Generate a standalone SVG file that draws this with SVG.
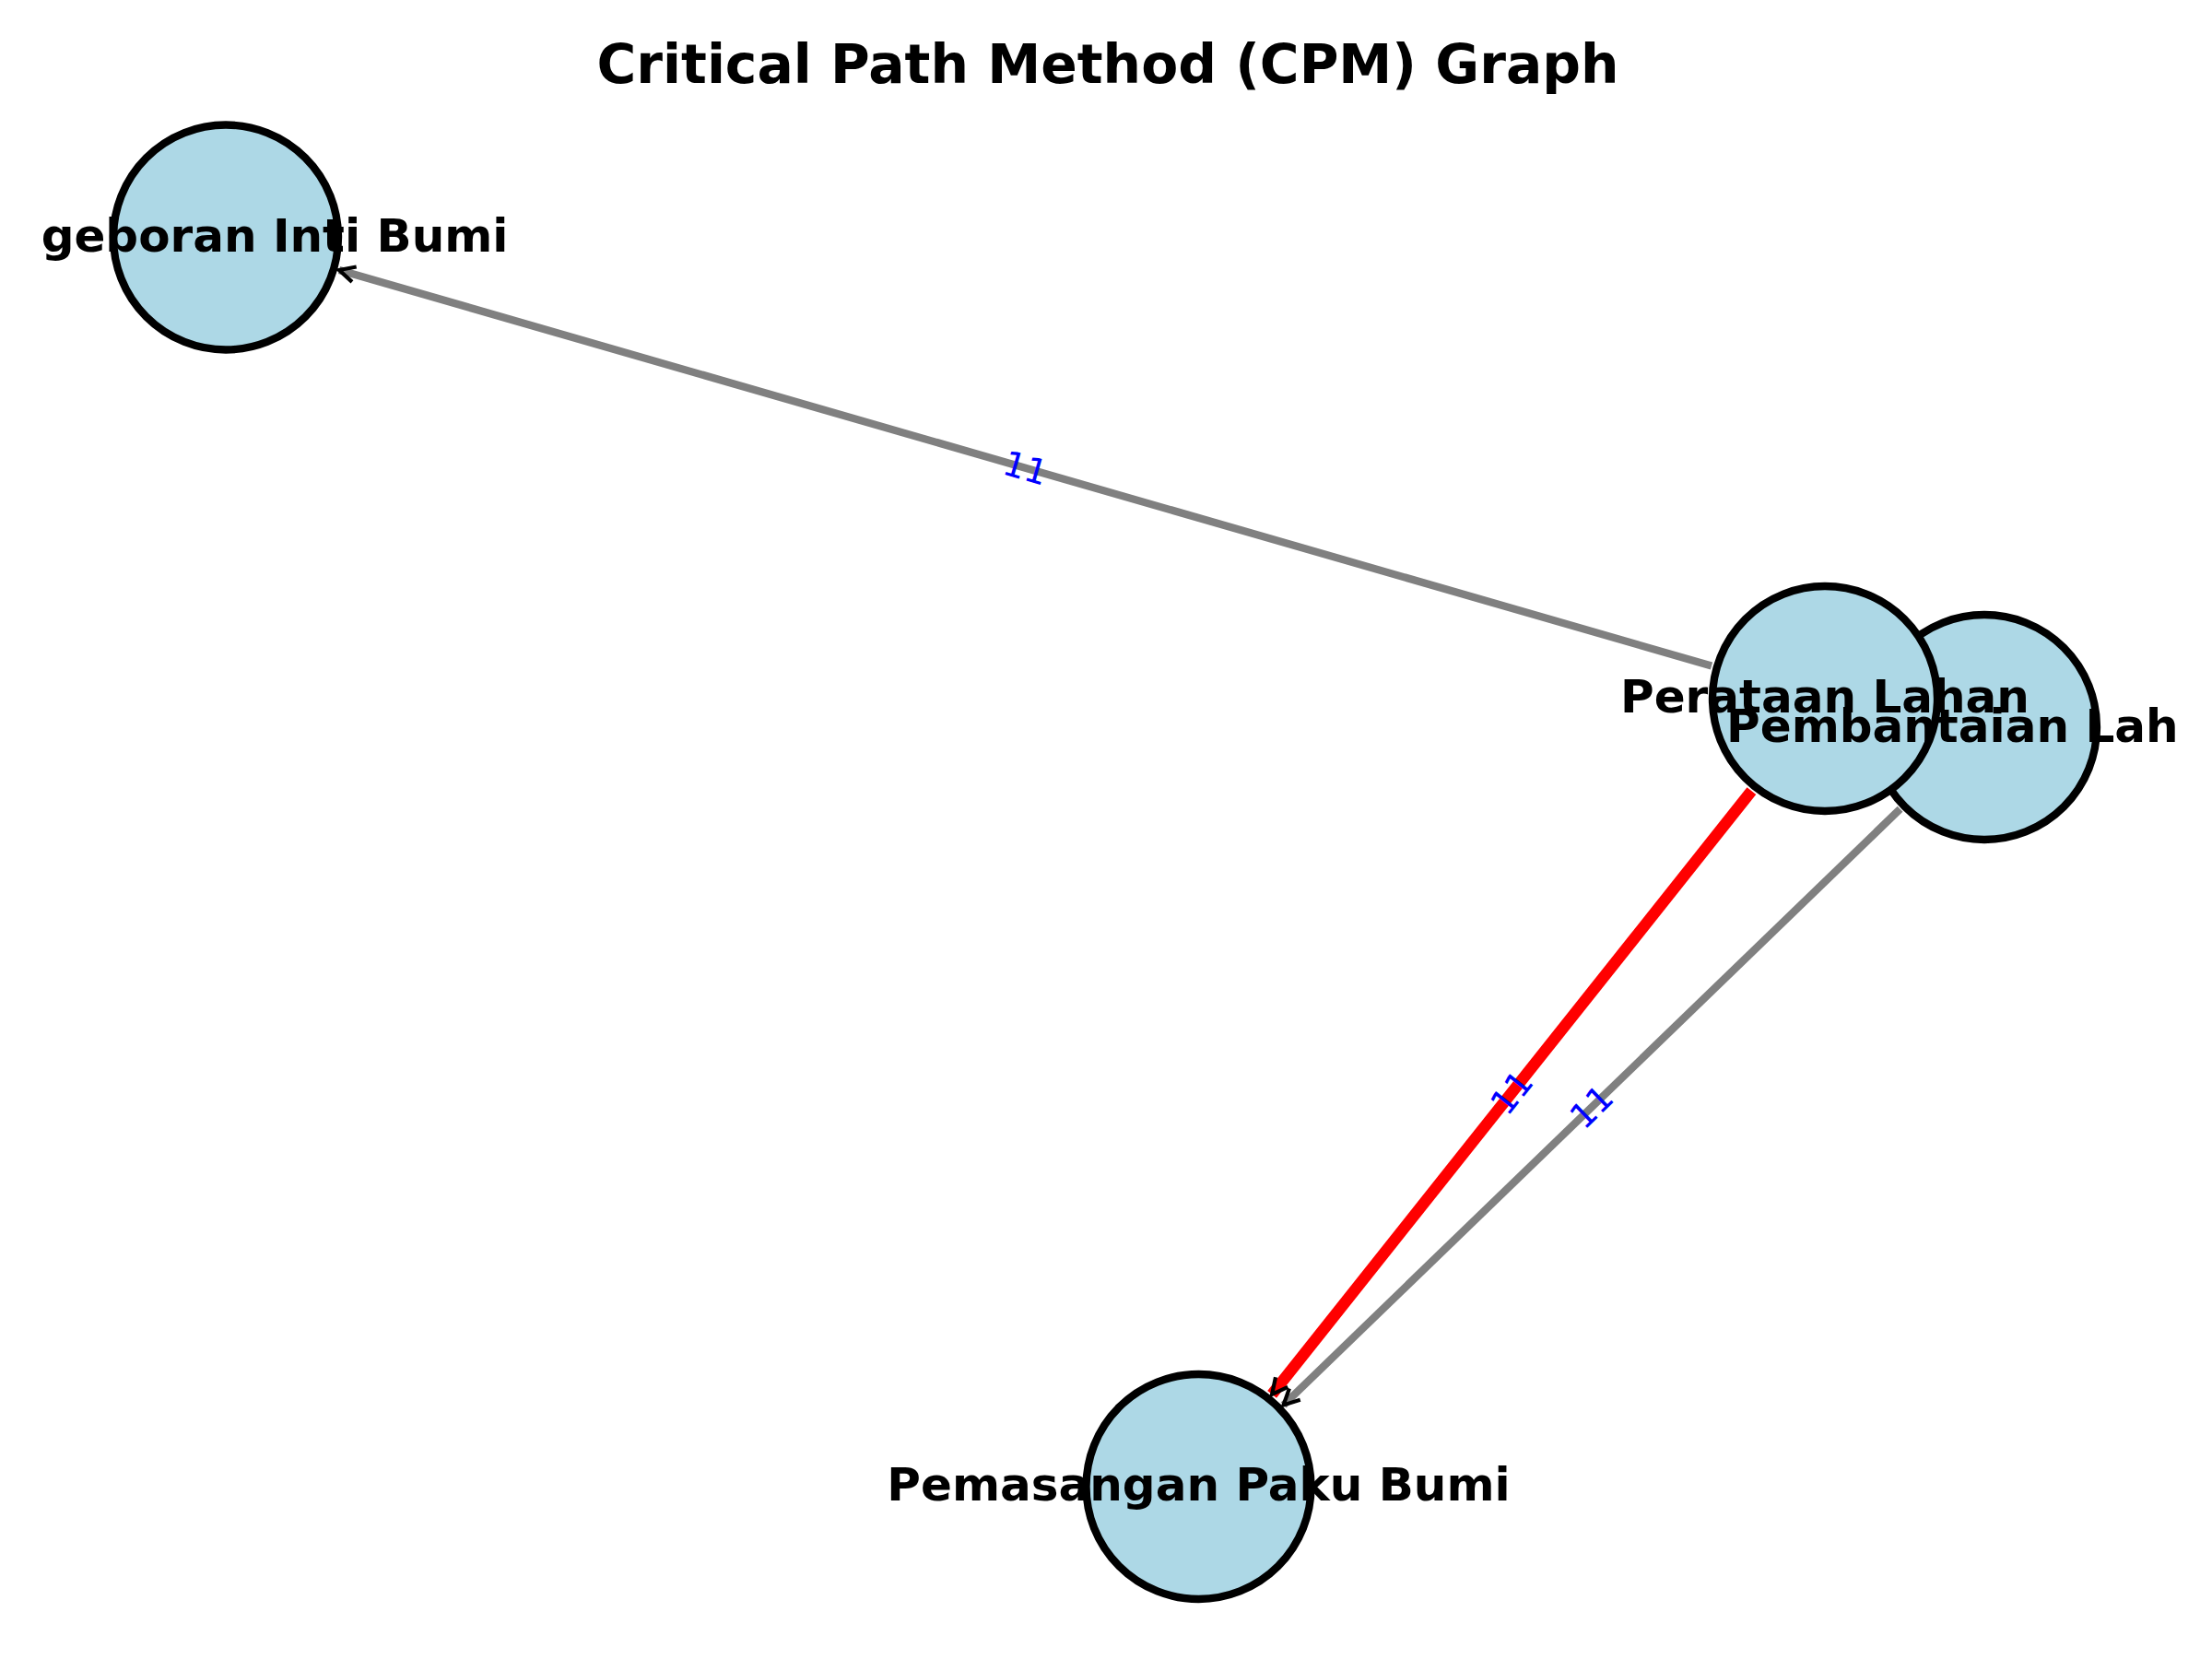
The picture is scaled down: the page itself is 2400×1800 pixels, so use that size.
<svg xmlns="http://www.w3.org/2000/svg" width="2400" height="1800" viewBox="0 0 2400 1800">
  <style>
    .title { font-family: "DejaVu Sans", "Liberation Sans", sans-serif; font-weight: bold; font-size: 58.3px; fill: #000; text-anchor: middle; }
    .node circle { fill: #ADD8E6; stroke: #000; stroke-width: 8.33; }
    .nlabel { font-family: "DejaVu Sans", "Liberation Sans", sans-serif; font-weight: bold; font-size: 50px; fill: #000; text-anchor: middle; }
    .edge { fill: none; stroke-linecap: butt; }
    .normal { stroke: #808080; stroke-width: 8.33; }
    .critical { stroke: #FF0000; stroke-width: 12.5; }
    .elabel { font-family: "DejaVu Sans", "Liberation Sans", sans-serif; font-size: 37.5px; fill: #0000FF; text-anchor: middle; dominant-baseline: central; }
  </style>
  <defs>
    <marker id="arrow" markerUnits="userSpaceOnUse" orient="auto" refX="0" refY="0" markerWidth="40" markerHeight="40" viewBox="-30 -20 40 40" overflow="visible">
      <path d="M-17,-8.5 L0,0 L-17,8.5" fill="none" stroke="#000" stroke-width="4.2" stroke-linejoin="miter"/>
    </marker>
    <clipPath id="plotclip">
      <rect x="44" y="0" width="2318" height="1800"/>
    </clipPath>
  </defs>
  <rect x="0" y="0" width="2400" height="1800" fill="#FFFFFF"/>

  <text class="title" x="1202" y="90">Critical Path Method (CPM) Graph</text>

  <g id="edges">
    <line id="edge-perataan-pengeboran" class="edge normal" x1="1857.0" y1="722.5" x2="368.0" y2="293.0" marker-end="url(#arrow)"/>
    <line id="edge-perataan-pemasangan" class="edge critical" x1="1900.4" y1="858.2" x2="1380.1" y2="1512.8" marker-end="url(#arrow)"/>
    <line id="edge-pembantaian-pemasangan" class="edge normal" x1="2061.6" y1="877.8" x2="1392.6" y2="1524.4" marker-end="url(#arrow)"/>
  </g>

  <g id="edge-labels">
    <text class="elabel" transform="translate(1112.5,507.8) rotate(16.09)">11</text>
    <text class="elabel" transform="translate(1640.2,1185.5) rotate(-51.53)">11</text>
    <text class="elabel" transform="translate(1726.8,1201) rotate(-44.0)">11</text>
  </g>

  <g id="node-pengeboran" class="node">
    <circle cx="245" cy="257.5" r="122"/>
  </g>
  <g id="node-pemasangan" class="node">
    <circle cx="1300.5" cy="1613" r="122"/>
  </g>
  <g id="node-pembantaian" class="node">
    <circle cx="2153" cy="789" r="122"/>
  </g>
  <g id="node-perataan" class="node">
    <circle cx="1980" cy="758" r="122"/>
  </g>

  <g id="node-labels" clip-path="url(#plotclip)">
    <text class="nlabel" x="245" y="272.5">Pengeboran Inti Bumi</text>
    <text class="nlabel" x="1300.5" y="1628">Pemasangan Paku Bumi</text>
    <text class="nlabel" x="2153" y="805">Pembantaian Lahan</text>
    <text class="nlabel" x="1980" y="773">Perataan Lahan</text>
  </g>
</svg>
